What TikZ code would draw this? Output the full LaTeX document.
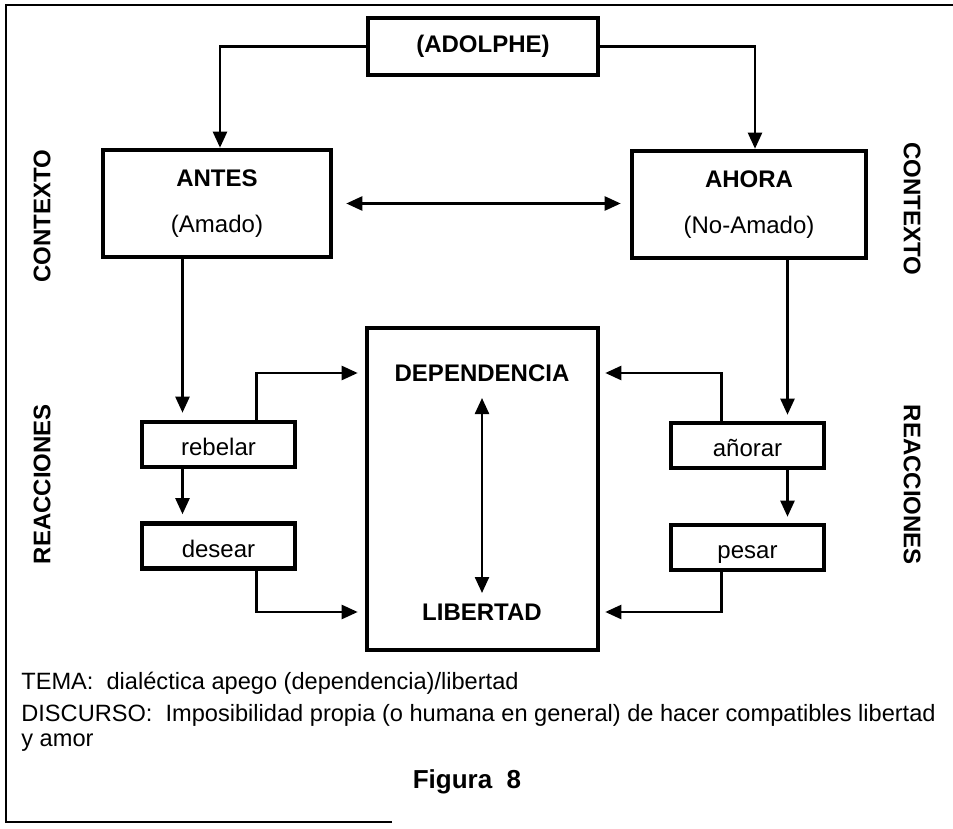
\documentclass[tikz,border=0pt]{standalone}
\usepackage{fontspec}
\setmainfont{Liberation Sans}
\usetikzlibrary{arrows.meta,positioning}
\tikzset{
  box/.style={rectangle,draw=black,line width=2.3pt,align=center,
              inner sep=0pt,font=\fontsize{12}{14}\selectfont},
  smallbox/.style={box,minimum width=76.5pt,minimum height=22.5pt,
                   text height=11pt,text depth=0pt},
  arr/.style={-{Triangle[length=8pt,width=7pt]},line width=1.2pt},
  darr/.style={{Triangle[length=8pt,width=7pt]}-{Triangle[length=8pt,width=7pt]},
               line width=1.2pt},
  sidetag/.style={inner sep=0pt,font=\fontsize{12}{14}\selectfont\bfseries},
  pietext/.style={inner sep=0pt,align=left,font=\fontsize{11.8}{12.5}\selectfont},
}

\begin{document}
\begin{tikzpicture}[x=0.5pt,y=-0.5pt]

  \useasboundingbox (0,0) rectangle (953,829);

  %% Frame
  \draw[line width=1.2pt] (392,822) -- (6,822) -- (6,5) -- (953,5);

  \def\leftX{218.5}
  \def\rightX{747.5}

  %% Top box
  \node[box,minimum width=115pt,minimum height=28.5pt,
        font=\fontsize{12}{14}\selectfont\bfseries]
    (adolphe) at (483,46.5) {(ADOLPHE)};

  %% Context boxes
  \node[box,minimum width=114pt,minimum height=53.5pt,
        font=\fontsize{12}{22.75}\selectfont]
    (antes) at (217,203.5) {\textbf{ANTES}\\(Amado)};
  \node[box,minimum width=117pt,minimum height=53.5pt,
        font=\fontsize{12}{22.75}\selectfont]
    (ahora) at (749,204.5) {\textbf{AHORA}\\(No-Amado)};

  %% Central box
  \node[box,minimum width=115.5pt,minimum height=161pt] (nucleo) at (482.5,489) {};
  \node[sidetag] (dep) at (482,373) {DEPENDENCIA};
  \node[sidetag] (lib) at (482,612) {LIBERTAD};

  %% Reactions
  \node[smallbox] (rebelar) at (\leftX,444.5) {rebelar};
  \node[smallbox] (desear)  at (\leftX,546)   {desear};
  \node[smallbox] (anorar)  at (\rightX,445.5) {añorar};
  \node[smallbox] (pesar)   at (\rightX,547.5) {pesar};

  %% Side labels
  \node[sidetag,rotate=90]  (ctxL)  at (42,216)  {CONTEXTO};
  \node[sidetag,rotate=-90] (ctxR)  at (912,209) {CONTEXTO};
  \node[sidetag,rotate=90]  (reacL) at (42,484)  {REACCIONES};
  \node[sidetag,rotate=-90] (reacR) at (912,485) {REACCIONES};

  %% Connectors
  \draw[arr] (adolphe.west) -| ([xshift=1.5pt]antes.north);
  \draw[arr] (adolphe.east) -| ([xshift=3pt]ahora.north);
  \draw[darr,shorten <=6.5pt,shorten >=4.5pt] (antes.east) -- (antes.east -| ahora.west);

  \coordinate (rebIn)  at ([xshift=-18pt]rebelar.north);
  \coordinate (rebOut) at ([xshift=19pt]rebelar.north);
  \coordinate (desOut) at ([xshift=19pt]desear.south);
  \draw[arr,shorten >=3.5pt] (antes.south -| rebIn) -- (rebIn);
  \draw[arr,shorten >=3.5pt] (rebelar.south -| rebIn) -- (desear.north -| rebIn);
  \draw[arr,shorten >=3.5pt] (rebOut) |- (nucleo.west |- dep);
  \draw[arr,shorten >=3.5pt] (desOut) |- (nucleo.west |- lib);

  \coordinate (anoIn)  at ([xshift=20pt]anorar.north);
  \coordinate (anoOut) at ([xshift=-13pt]anorar.north);
  \coordinate (pesOut) at ([xshift=-13pt]pesar.south);
  \draw[arr,shorten >=3pt] (ahora.south -| anoIn) -- (anoIn);
  \draw[arr,shorten >=3pt] (anorar.south -| anoIn) -- (pesar.north -| anoIn);
  \draw[arr,shorten >=2.5pt] (anoOut) |- (nucleo.east |- dep);
  \draw[arr,shorten >=2.5pt] (pesOut) |- (nucleo.east |- lib);

  \draw[darr] ([yshift=-12.5pt]dep.center) -- ([yshift=9.5pt]lib.center);

  %% Footer
  \node[pietext,anchor=base west] (tema) at (21,689)
    {TEMA:\ \ dialéctica apego (dependencia)/libertad};
  \node[pietext,anchor=base west] (discurso) at (21,746)
    {DISCURSO:\ \ Imposibilidad propia (o humana en general) de hacer compatibles libertad\\y amor};
  \node[inner sep=0pt,anchor=base,font=\fontsize{13}{15}\selectfont\bfseries]
    (figura) at (467,788) {Figura\ \ 8};

\end{tikzpicture}
\end{document}
